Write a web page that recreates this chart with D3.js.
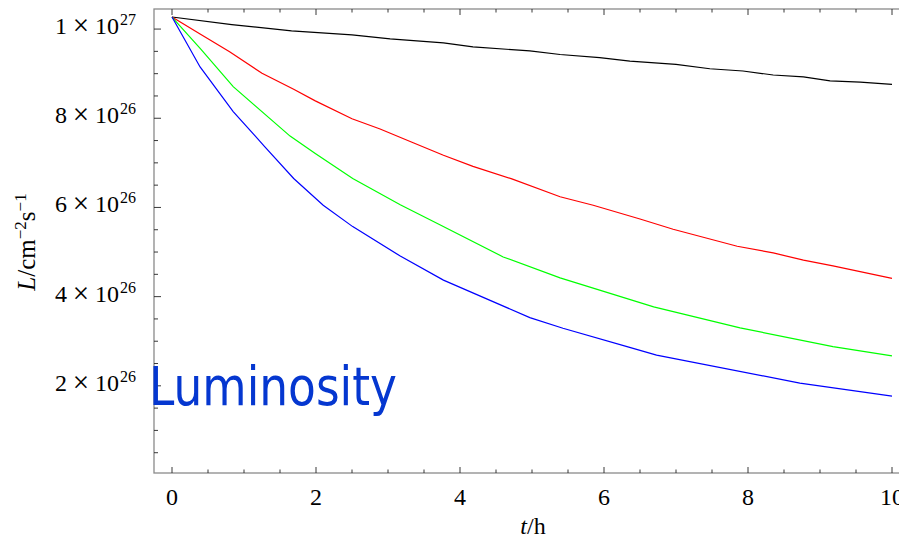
<!DOCTYPE html>
<html>
<head>
<meta charset="utf-8">
<script src="https://cdn.jsdelivr.net/npm/d3@7"></script>
<style>
  body { margin: 0; background: #fff; }
  svg { display: block; }
</style>
</head>
<body>
<div id="wrapper"></div>
<script>
// luminosity in units of 10^26 cm^-2 s^-1, time in hours
const blackT = [0, 0.83, 1.66, 2.5, 3.03, 3.77, 4.18, 4.97, 5.39, 5.94, 6.36, 7.0, 7.47, 7.93, 8.35, 8.77, 9.14, 9.56, 10];
const blackL = [10.27, 10.10, 9.96, 9.87, 9.78, 9.69, 9.60, 9.51, 9.43, 9.36, 9.28, 9.21, 9.11, 9.06, 8.97, 8.93, 8.84, 8.81, 8.76];

const redT = [0, 0.39, 0.8, 1.25, 1.69, 1.99, 2.5, 2.89, 3.35, 3.77, 4.18, 4.72, 5.39, 5.85, 6.5, 6.96, 7.85, 8.35, 8.77, 9.18, 10];
const redL = [10.27, 9.89, 9.49, 9.01, 8.65, 8.39, 7.99, 7.76, 7.45, 7.17, 6.92, 6.64, 6.24, 6.05, 5.74, 5.51, 5.13, 4.98, 4.82, 4.69, 4.41];

const greenT = [0, 0.4, 0.85, 1.64, 1.99, 2.51, 3.17, 3.72, 4.6, 5.39, 6.69, 7.89, 9.18, 10];
const greenL = [10.27, 9.55, 8.71, 7.60, 7.21, 6.65, 6.06, 5.61, 4.89, 4.42, 3.77, 3.30, 2.88, 2.67];

const blueT = [0, 0.39, 0.85, 1.29, 1.69, 2.1, 2.51, 3.17, 3.77, 4.97, 5.43, 6.32, 6.73, 8.72, 10];
const blueL = [10.27, 9.15, 8.15, 7.36, 6.65, 6.05, 5.57, 4.91, 4.37, 3.53, 3.29, 2.88, 2.69, 2.06, 1.77];

const xTicks = [0, 2, 4, 6, 8, 10];
const yTicks = [2, 4, 6, 8, 10];
const yTickMant = ["2", "4", "6", "8", "1"];
const yTickExp = ["26", "26", "26", "26", "27"];

const series = [
  { t: blackT, l: blackL, color: "#000000" },
  { t: redT, l: redL, color: "#ff0000" },
  { t: greenT, l: greenL, color: "#00ff00" },
  { t: blueT, l: blueL, color: "#0000ff" },
];

const width = 899;
const height = 540;
const frame = { left: 154, right: 910, top: 9, bottom: 473 };

const svg = d3.select("#wrapper")
  .append("svg")
  .attr("width", width)
  .attr("height", height);

const xScale = d3.scaleLinear()
  .domain([-0.25, 10.25])
  .range([frame.left, frame.right]);

const yScale = d3.scaleLinear()
  .domain([0.045, 10.45])
  .range([frame.bottom, frame.top]);

const serif = "'Liberation Serif', 'Times New Roman', serif";

// frame
svg.append("rect")
  .attr("x", frame.left)
  .attr("y", frame.top)
  .attr("width", frame.right - frame.left)
  .attr("height", frame.bottom - frame.top)
  .attr("fill", "none")
  .attr("stroke", "#8a8a8a")
  .attr("stroke-width", 1.3);

// ticks
const xMinor = d3.range(0, 10.01, 0.5);
const yMinor = d3.range(0.5, 10.01, 0.5);
const isMajor = v => Math.abs(v / 2 - Math.round(v / 2)) < 1e-6;

const tickG = svg.append("g")
  .attr("stroke", "#222")
  .attr("stroke-width", 0.9);

xMinor.forEach(v => {
  const len = isMajor(v) ? 6 : 3.5;
  const x = xScale(v);
  tickG.append("line")
    .attr("x1", x).attr("x2", x)
    .attr("y1", frame.bottom).attr("y2", frame.bottom - len);
  tickG.append("line")
    .attr("x1", x).attr("x2", x)
    .attr("y1", frame.top).attr("y2", frame.top + len);
});

yMinor.forEach(v => {
  const len = isMajor(v) ? 7 : 4;
  const y = yScale(v);
  tickG.append("line")
    .attr("x1", frame.left).attr("x2", frame.left + len)
    .attr("y1", y).attr("y2", y);
});

// x tick labels
svg.append("g")
  .selectAll("text")
  .data(xTicks)
  .join("text")
  .attr("x", d => xScale(d))
  .attr("y", 505)
  .attr("text-anchor", "middle")
  .attr("font-family", serif)
  .attr("font-size", 24)
  .text(d => d);

// y tick labels: mantissa x 10^exp
const yLabG = svg.append("g")
  .attr("font-family", serif)
  .attr("fill", "#000");

yTicks.forEach((v, i) => {
  const base = yScale(v) + 5;
  yLabG.append("text")
    .attr("x", 61).attr("y", base)
    .attr("text-anchor", "middle")
    .attr("font-size", 24)
    .text(yTickMant[i]);
  yLabG.append("text")
    .attr("x", 81).attr("y", base + 1)
    .attr("text-anchor", "middle")
    .attr("font-size", 29)
    .text("\u00d7");
  yLabG.append("text")
    .attr("x", 95).attr("y", base)
    .attr("font-size", 24)
    .text("10");
  yLabG.append("text")
    .attr("x", 120).attr("y", base - 9)
    .attr("font-size", 16)
    .text(yTickExp[i]);
});

// axis labels
const xLab = svg.append("text")
  .attr("x", 533)
  .attr("y", 534)
  .attr("text-anchor", "middle")
  .attr("font-family", serif)
  .attr("font-size", 24);
xLab.append("tspan").attr("font-style", "italic").text("t");
xLab.append("tspan").text("/h");

const yLab = svg.append("text")
  .attr("transform", "translate(35,242) rotate(-90)")
  .attr("text-anchor", "middle")
  .attr("font-family", serif)
  .attr("font-size", 25);
yLab.append("tspan").attr("font-style", "italic").text("L");
yLab.append("tspan").text("/cm");
yLab.append("tspan").attr("dy", -9).attr("font-size", 17).text("\u22122");
yLab.append("tspan").attr("dy", 9).text("s");
yLab.append("tspan").attr("dy", -9).attr("font-size", 17).text("\u22121");

// curves
const line = d3.line()
  .x(d => xScale(d[0]))
  .y(d => yScale(d[1]));

svg.append("clipPath")
  .attr("id", "plotclip")
  .append("rect")
  .attr("x", frame.left)
  .attr("y", frame.top)
  .attr("width", frame.right - frame.left)
  .attr("height", frame.bottom - frame.top);

svg.append("g")
  .attr("clip-path", "url(#plotclip)")
  .selectAll("path")
  .data(series)
  .join("path")
  .attr("d", s => line(s.t.map((t, i) => [t, s.l[i]])))
  .attr("fill", "none")
  .attr("stroke", s => s.color)
  .attr("stroke-width", 1.2);

// title label
svg.append("text")
  .attr("x", 149)
  .attr("y", 405)
  .attr("font-family", "'DejaVu Sans', Verdana, sans-serif")
  .attr("font-size", 53)
  .attr("textLength", 248)
  .attr("lengthAdjust", "spacingAndGlyphs")
  .attr("fill", "#0537d0")
  .text("Luminosity");
</script>
</body>
</html>
